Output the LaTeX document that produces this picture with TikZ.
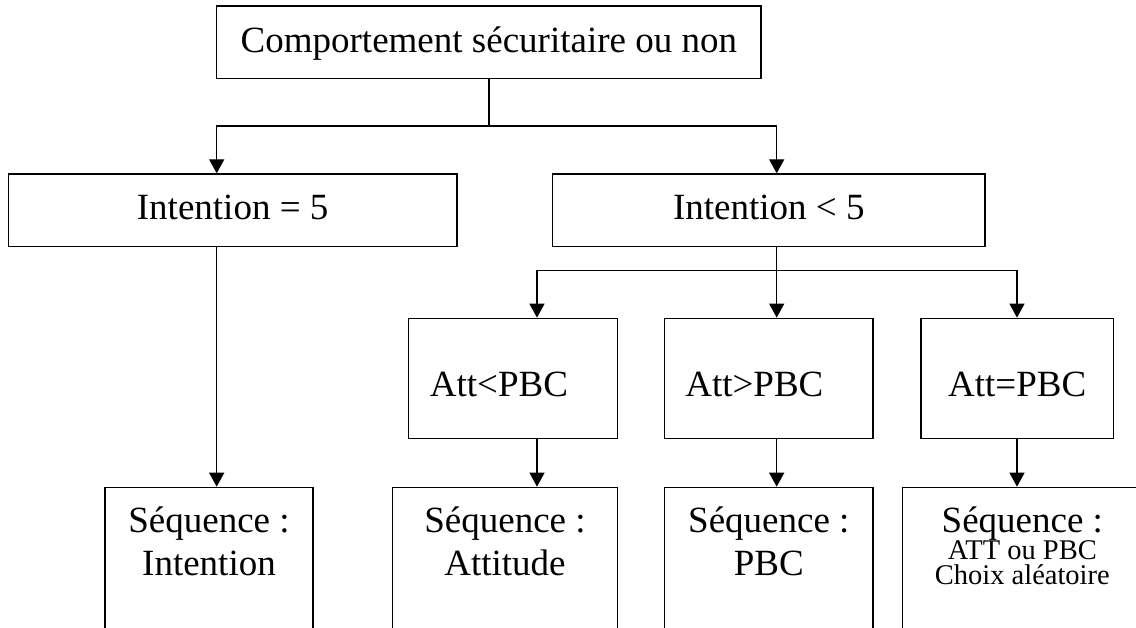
\documentclass[tikz,border=0pt]{standalone}
\usepackage{fontspec}
\setmainfont{Liberation Serif}
\usetikzlibrary{arrows.meta}
\begin{document}
\begin{tikzpicture}[x=1pt,y=-1pt,
  box/.style={draw, line width=1.3pt, rectangle, inner sep=0pt,
    font=\fontsize{37}{42.6}\selectfont},
  onebox/.style={box, minimum height=72.7pt, text height=26pt, text depth=6.1pt},
  attbox/.style={box, minimum height=120pt, text height=36pt, text depth=0.6pt},
  seqbox/.style={box, anchor=north, text height=45.6pt, text depth=127.7pt},
  conn/.style={line width=1.3pt},
  arr/.style={conn, -{Triangle[width=15pt,length=14pt]}}
]
\useasboundingbox (0,0) rectangle (1136,628);
\clip (0,0) rectangle (1136,628);

% boxes
\node[onebox, minimum width=544.3pt] (top) at (488.85,42.35) {Comportement sécuritaire ou non};
\node[onebox, minimum width=448.7pt, text depth=6.7pt] (i5) at (232.65,210.35) {Intention = 5};
\node[onebox, minimum width=432.3pt, text depth=6.7pt] (i5b) at (768.85,210.35) {Intention < 5};

\node[attbox, minimum width=208.6pt] (a1) at (513,378.3) {Att<PBC\hspace*{28pt}};
\node[attbox, minimum width=208.3pt] (a2) at (768.85,378.3) {Att>PBC\hspace*{29pt}};
\node[attbox, minimum width=192.3pt] (a3) at (1017.15,378.3) {Att=PBC};

\node[seqbox, minimum width=208pt] (s1) at (209,486.7)
  {\parbox[t]{200pt}{\centering Séquence :\\Intention}};
\node[seqbox, minimum width=224.6pt] (s2) at (505,486.7)
  {\parbox[t]{210pt}{\centering Séquence :\\Attitude}};
\node[seqbox, minimum width=208.3pt] (s3) at (768.85,486.7)
  {\parbox[t]{200pt}{\centering Séquence :\\PBC}};
\node[seqbox, minimum width=239.3pt] (s4) at (1022.35,486.7)
  {\parbox[t]{230pt}{\centering\lineskiplimit=-100pt Séquence :\par
   \fontsize{28.5}{27}\selectfont ATT ou PBC\par
   \fontsize{28.5}{24.7}\selectfont Choix aléatoire}};

% junction points
\coordinate (j1) at (488.85,126);
\coordinate (b1) at (216.7,126);
\coordinate (b2) at (776.7,126);
\coordinate (c1) at (537,270.7);
\coordinate (c2) at (776.7,270.7);
\coordinate (c3) at (1017,270.7);

% connectors
\draw[arr] (top.south) -- (j1) -- (b1) -- (b1 |- i5.north);
\draw[arr] (j1) -- (b2) -- (b2 |- i5b.north);
\draw[arr] (b1 |- i5.south) -- (b1 |- s1.north);

\draw[arr] (c2 |- i5b.south) -- (c2) -- (c1) -- (c1 |- a1.north);
\draw[arr] (c2) -- (c3) -- (c3 |- a3.north);
\draw[arr] (c2) -- (c2 |- a2.north);

\draw[arr] (c1 |- a1.south) -- (c1 |- s2.north);
\draw[arr] (c2 |- a2.south) -- (c2 |- s3.north);
\draw[arr] (c3 |- a3.south) -- (c3 |- s4.north);
\end{tikzpicture}
\end{document}
